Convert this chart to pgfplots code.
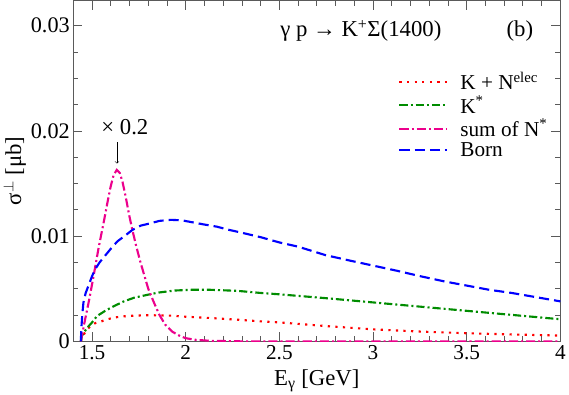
\documentclass[border=0pt]{standalone}
\usepackage{fontspec}
\setmainfont{Liberation Serif}
\usepackage{pgfplots}
\pgfplotsset{compat=1.18}
\definecolor{kgreen}{RGB}{0,140,0}
\definecolor{framegray}{RGB}{90,90,90}
\begin{document}
\begin{tikzpicture}
\begin{axis}[
  scale only axis,
  width=480bp, height=336bp,
  xmin=1.4, xmax=4, ymin=0, ymax=0.0324,
  xtick={1.5,2,2.5,3,3.5,4},
  xticklabels={1.5,2,2.5,3,3.5,4},
  ytick={0,0.01,0.02,0.03},
  yticklabels={0,0.01,0.02,0.03},
  scaled y ticks=false,
  scaled x ticks=false,
  minor x tick num=4,
  minor y tick num=3,
  tick align=inside,
  major tick length=9bp,
  minor tick length=5bp,
  axis line style={framegray, line width=0.9pt},
  every tick/.style={framegray, line width=0.8pt},
  /pgf/number format/assume math mode=true,
  xticklabel style={font=\fontsize{21}{24}\selectfont, yshift=-1bp},
  yticklabel style={font=\fontsize{22}{25}\selectfont},
  xlabel={E\textsubscript{γ} [GeV]},
  ylabel={σ$^{\perp}$ [μb]},
  xlabel style={font=\fontsize{22.5}{25}\selectfont, yshift=-2bp},
  ylabel style={font=\fontsize{22.5}{25}\selectfont, yshift=-2bp},
  legend image code/.code={\draw[#1] (0bp,0bp) -- (47bp,0bp);},
  legend cell align=left,
  legend style={at={(rel axis cs:0.665,0.80)}, anchor=north west, draw=none, fill=none,
    font=\fontsize{21}{22}\selectfont, row sep=0.5bp, column sep=10bp, inner sep=1pt},
]
\addplot[red, line width=2.1pt, dash pattern=on 2.2pt off 5.3pt] coordinates {
(1.44,0)(1.45,0.0005)(1.472,0.0011)(1.495,0.0015)(1.518,0.00174)(1.55,0.0019)(1.581,0.0021)(1.625,0.00228)(1.671,0.00238)(1.73,0.00245)(1.797,0.00248)(1.86,0.00247)(1.924,0.00244)(2.0,0.00234)(2.13,0.00222)(2.275,0.00206)(2.4,0.0019)(2.5,0.0018)(2.75,0.00145)(3.0,0.00114)(3.25,0.00093)(3.5,0.00077)(3.75,0.00065)(4.0,0.00055)
};
\addlegendentry{K + N\textsuperscript{elec}}
\addplot[kgreen, line width=2.1pt, dash pattern=on 8pt off 3pt on 2pt off 3pt] coordinates {
(1.44,0)(1.445,0.0005)(1.472,0.00125)(1.50,0.0018)(1.526,0.0024)(1.57,0.0029)(1.617,0.00335)(1.67,0.0038)(1.725,0.00415)(1.79,0.0044)(1.852,0.00463)(1.942,0.00483)(2.03,0.0049)(2.13,0.0049)(2.275,0.0048)(2.4,0.0046)(2.5,0.00447)(2.75,0.0041)(3.0,0.0037)(3.25,0.0033)(3.5,0.0029)(3.75,0.0025)(4.0,0.0021)
};
\addlegendentry{K\textsuperscript{*}}
\addplot[magenta, line width=2.1pt, dash pattern=on 9pt off 3pt on 2pt off 3pt] coordinates {
(1.44,0)(1.463,0.0021)(1.485,0.0040)(1.508,0.0062)(1.535,0.0089)(1.563,0.0114)(1.58,0.0130)(1.599,0.0147)(1.615,0.0158)(1.632,0.0163)(1.648,0.0160)(1.662,0.0152)(1.68,0.0137)(1.698,0.0120)(1.715,0.0106)(1.735,0.0091)(1.757,0.0076)(1.78,0.0062)(1.80,0.0050)(1.83,0.0037)(1.86,0.0025)(1.89,0.0016)(1.93,0.0009)(1.97,0.0005)(2.0,0.0003)(2.05,0.00015)(2.13,0.00005)(2.3,0)(4,0)
};
\addlegendentry{sum of N\textsuperscript{*}}
\addplot[blue, line width=2.1pt, dash pattern=on 10pt off 5pt] coordinates {
(1.44,0)(1.443,0.0013)(1.448,0.0026)(1.454,0.0037)(1.466,0.0046)(1.481,0.0053)(1.50,0.0062)(1.518,0.0069)(1.54,0.0075)(1.563,0.0080)(1.60,0.0088)(1.635,0.0095)(1.68,0.0101)(1.716,0.0106)(1.76,0.0110)(1.807,0.0112)(1.86,0.01145)(1.92,0.01155)(1.98,0.0115)(2.04,0.0113)(2.1,0.0111)(2.166,0.0109)(2.23,0.0106)(2.293,0.01035)(2.4,0.0099)(2.5,0.0094)(2.6,0.0090)(2.745,0.0082)(2.87,0.0077)(3.0,0.0072)(3.13,0.0067)(3.25,0.0062)(3.38,0.0057)(3.5,0.0053)(3.62,0.0049)(3.74,0.0046)(3.87,0.0042)(4.0,0.0038)
};
\addlegendentry{Born}
\node[font=\fontsize{22.5}{25}\selectfont] at (axis cs:2.935,0.0295) {γ p → K\textsuperscript{+}Σ(1400)};
\node[font=\fontsize{22.5}{25}\selectfont] at (axis cs:3.784,0.0295) {(b)};
\node[font=\fontsize{22.5}{24}\selectfont] at (axis cs:1.675,0.0204) {× 0.2};
\draw[->, line width=0.6pt] (axis cs:1.633,0.0189) -- (axis cs:1.633,0.0169);
\end{axis}
\end{tikzpicture}
\end{document}
